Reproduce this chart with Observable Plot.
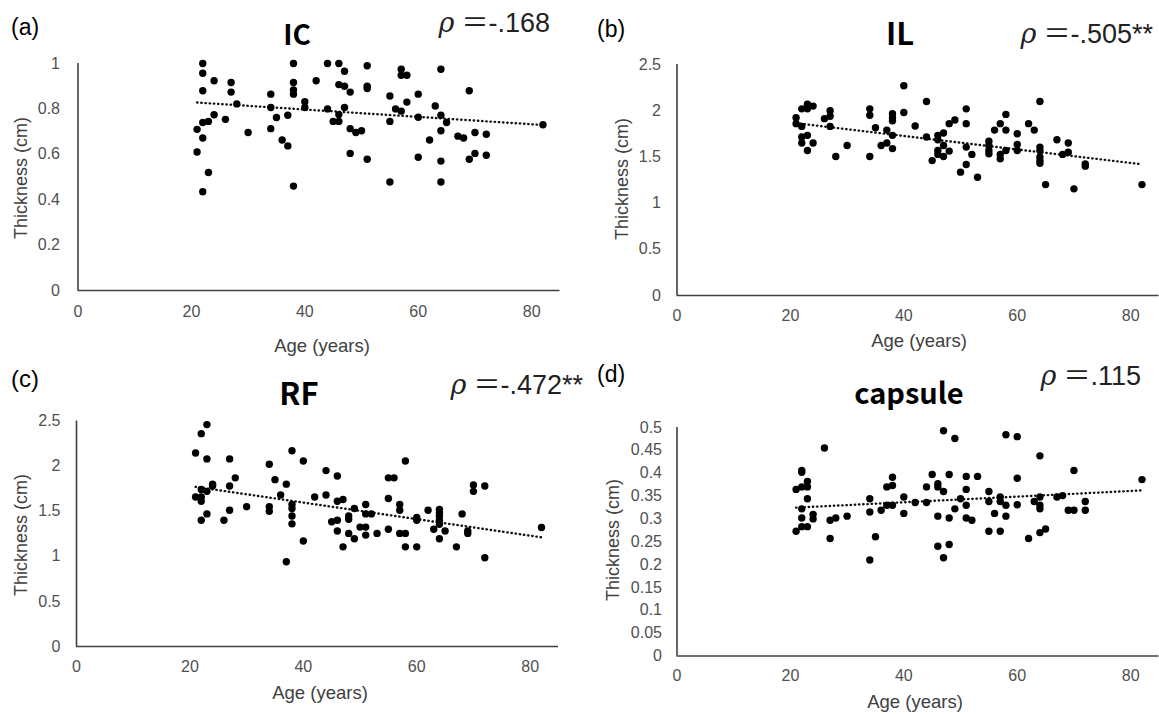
<!DOCTYPE html>
<html>
<head>
<meta charset="utf-8">
<script src="https://cdn.jsdelivr.net/npm/d3@7"></script>
<script src="https://cdn.jsdelivr.net/npm/@observablehq/plot@0.6"></script>
<style>
  html, body { margin: 0; padding: 0; background: #fff; }
  #wrap { position: relative; width: 1159px; height: 714px; overflow: hidden; background: #fff; }
  .panel { position: absolute; }
  #overlay { position: absolute; left: 0; top: 0; pointer-events: none; }
</style>
</head>
<body>
<div id="wrap"><svg id="overlay" width="1159" height="714"></svg></div>
<script>
// ---------- data ----------
const xTicks = [0, 20, 40, 60, 80];

// (a) IC
const icAge = [21,21,22,22,22,22,22,22,23,23,24,24,26,27,27,28,30,34,34,34,35,36,37,37,38,38,38,38,38,40,40,42,44,44,45,46,46,46,46,47,47,47,48,48,48,49,50,51,51,51,51,55,55,55,56,57,57,57,58,58,60,60,60,62,63,64,64,64,64,64,65,67,68,69,69,70,70,72,72,82];
const icThick = [0.71,0.61,1.0,0.957,0.88,0.74,0.672,0.435,0.745,0.52,0.774,0.924,0.754,0.916,0.874,0.822,0.696,0.865,0.806,0.713,0.762,0.663,0.772,0.637,1.0,0.916,0.884,0.865,0.46,0.832,0.806,0.924,1.0,0.80,0.745,1.0,0.907,0.775,0.745,0.966,0.90,0.806,0.874,0.713,0.604,0.696,0.704,0.99,0.90,0.89,0.578,0.857,0.745,0.478,0.80,0.975,0.948,0.79,0.948,0.83,0.865,0.763,0.587,0.663,0.813,0.975,0.772,0.704,0.57,0.478,0.74,0.68,0.672,0.88,0.578,0.696,0.604,0.688,0.596,0.73];
const icTrendAge = [21, 82];
const icTrend = [0.828, 0.729];
const icTicks = [0, 0.2, 0.4, 0.6, 0.8, 1];

// (b) IL
const ilAge = [21,21,22,22,22,22,23,23,23,23,24,24,26,27,27,27,28,30,34,34,34,35,36,37,37,38,38,38,38,38,40,40,42,44,44,45,46,46,46,46,47,47,47,48,48,49,50,51,51,51,51,52,53,55,55,55,55,56,57,57,57,58,58,58,60,60,60,62,63,64,64,64,64,64,64,65,67,68,69,69,70,72,72,82];
const ilThick = [1.925,1.86,2.02,1.83,1.715,1.65,2.07,2.02,1.733,1.57,2.05,1.65,1.914,2.0,1.94,1.83,1.505,1.624,2.02,1.95,1.505,1.816,1.624,1.79,1.65,1.968,1.925,1.89,1.733,1.59,2.27,1.98,1.834,2.10,1.715,1.46,1.733,1.686,1.57,1.527,1.758,1.624,1.505,1.86,1.563,1.90,1.335,2.02,1.86,1.606,1.418,1.527,1.28,1.67,1.624,1.57,1.534,1.79,1.86,1.527,1.48,1.96,1.79,1.57,1.75,1.635,1.57,1.86,1.79,2.10,1.606,1.57,1.50,1.46,1.43,1.20,1.686,1.527,1.65,1.55,1.154,1.425,1.40,1.20];
const ilTrendAge = [21, 82];
const ilTrend = [1.865, 1.42];
const ilTicks = [0, 0.5, 1, 1.5, 2, 2.5];

// (c) RF
const rfAge = [21,21,22,22,22,22,22,23,23,23,23,24,24,26,27,27,27,28,30,34,34,34,35,36,37,37,38,38,38,38,38,40,40,42,44,44,45,46,46,46,46,47,47,48,48,48,49,49,50,51,51,51,51,52,53,55,55,55,56,57,57,57,58,58,58,60,60,60,62,63,64,64,64,64,64,64,65,67,68,69,69,70,70,72,72,82];
const rfThick = [2.145,1.657,2.36,1.657,1.74,1.61,1.40,2.46,2.08,1.72,1.47,1.80,1.78,1.40,2.08,1.78,1.51,1.87,1.55,2.02,1.55,1.50,1.85,1.68,1.80,0.94,2.17,1.575,1.53,1.446,1.36,2.056,1.17,1.657,1.95,1.68,1.383,1.89,1.61,1.40,1.28,1.63,1.105,1.446,1.41,1.254,1.53,1.195,1.324,1.575,1.47,1.324,1.235,1.47,1.254,1.87,1.64,1.30,1.87,1.575,1.51,1.254,2.056,1.254,1.105,1.43,1.40,1.105,1.51,1.30,1.52,1.48,1.446,1.40,1.354,1.195,1.28,1.105,1.47,1.28,1.254,1.79,1.72,1.78,0.984,1.32];
const rfTrendAge = [21, 82];
const rfTrend = [1.77, 1.21];
const rfTicks = [0, 0.5, 1, 1.5, 2, 2.5];

// (d) capsule
const capAge = [21,21,22,22,22,22,22,22,23,23,23,23,24,24,26,27,27,28,30,34,34,34,35,36,37,37,38,38,38,40,40,42,44,44,45,46,46,46,46,47,47,47,48,48,48,49,49,50,51,51,51,51,52,53,55,55,55,56,57,57,57,58,58,58,60,60,60,62,63,64,64,64,64,64,65,67,68,69,70,70,72,72,82];
const capThick = [0.3645,0.273,0.406,0.402,0.37,0.322,0.302,0.283,0.382,0.37,0.344,0.283,0.31,0.30,0.455,0.297,0.257,0.302,0.306,0.344,0.315,0.21,0.261,0.319,0.37,0.33,0.391,0.373,0.33,0.348,0.312,0.336,0.37,0.336,0.397,0.377,0.37,0.306,0.24,0.493,0.36,0.215,0.397,0.302,0.244,0.476,0.322,0.344,0.393,0.3645,0.33,0.302,0.297,0.393,0.36,0.338,0.273,0.312,0.348,0.338,0.273,0.484,0.33,0.306,0.48,0.389,0.331,0.257,0.338,0.438,0.348,0.33,0.322,0.27,0.278,0.348,0.351,0.319,0.406,0.319,0.338,0.319,0.386];
const capTrendAge = [21, 82];
const capTrend = [0.3246, 0.3623];
const capTicks = [0, 0.05, 0.1, 0.15, 0.2, 0.25, 0.3, 0.35, 0.4, 0.45, 0.5];

// ---------- drawing ----------
function panel(cfg) {
  const pts = cfg.ages.map((a, i) => ({age: a, v: cfg.vals[i]}));
  const trend = cfg.trendAge.map((a, i) => ({age: a, v: cfg.trend[i]}));
  const yMax = cfg.yTicks[cfg.yTicks.length - 1];
  const chart = Plot.plot({
    width: cfg.width, height: cfg.height,
    marginLeft: cfg.ml, marginRight: cfg.mr, marginTop: cfg.mt, marginBottom: cfg.mb,
    style: {fontFamily: "'Liberation Sans', Arial, sans-serif", fontSize: "16px", color: "#505050", background: "transparent", overflow: "visible"},
    x: {domain: [0, 85], ticks: xTicks, tickSize: 0, tickPadding: cfg.xPad, label: null, tickFormat: d => String(d)},
    y: {domain: [0, yMax], ticks: cfg.yTicks, tickSize: 0, tickPadding: cfg.yPad, label: null, tickFormat: d => String(d)},
    marks: [
      Plot.ruleY([0], {stroke: "#404040", strokeWidth: 1.6}),
      Plot.ruleX([0], {stroke: "#404040", strokeWidth: 1.6}),
      Plot.line(trend, {x: "age", y: "v", stroke: "#111", strokeWidth: 2.4, strokeLinecap: "round", strokeDasharray: "0.4,3.8"}),
      Plot.dot(pts, {x: "age", y: "v", r: 3.7, fill: "#000", stroke: "none"})
    ]
  });
  const div = document.createElement("div");
  div.className = "panel";
  div.style.left = cfg.left + "px";
  div.style.top = cfg.top + "px";
  div.appendChild(chart);
  document.getElementById("wrap").insertBefore(div, document.getElementById("overlay"));
}

panel({ages: icAge, vals: icThick, trendAge: icTrendAge, trend: icTrend, yTicks: icTicks,
  left: 0, top: 0, width: 580, height: 357, ml: 77.5, mr: 20.5, mt: 63, mb: 67, xPad: 15, yPad: 18});
panel({ages: ilAge, vals: ilThick, trendAge: ilTrendAge, trend: ilTrend, yTicks: ilTicks,
  left: 580, top: 0, width: 579, height: 357, ml: 96.5, mr: 0.5, mt: 64, mb: 62, xPad: 14, yPad: 16});
panel({ages: rfAge, vals: rfThick, trendAge: rfTrendAge, trend: rfTrend, yTicks: rfTicks,
  left: 0, top: 357, width: 580, height: 357, ml: 76, mr: 22, mt: 63.5, mb: 68, xPad: 14, yPad: 16});
panel({ages: capAge, vals: capThick, trendAge: capTrendAge, trend: capTrend, yTicks: capTicks,
  left: 580, top: 357, width: 579, height: 357, ml: 96.5, mr: 0.5, mt: 70, mb: 58.5, xPad: 14, yPad: 15});

// ---------- texts ----------
const ov = d3.select("#overlay");
const sans = "'Liberation Sans', Arial, sans-serif";
const cjk = "'Noto Sans CJK JP', 'Noto Sans', sans-serif";
function txt(s, x, y, o) {
  const t = ov.append("text").attr("x", x).attr("y", y).text(s)
    .attr("font-family", o.font || sans)
    .attr("font-size", o.size).attr("fill", o.fill || "#000")
    .attr("font-weight", o.weight || "normal")
    .attr("text-anchor", o.anchor || "start");
  if (o.rotate) t.attr("transform", `rotate(-90 ${x} ${y})`);
  return t;
}
function rho(val, x, y) {
  const t = ov.append("text").attr("x", x).attr("y", y)
    .attr("font-family", sans).attr("font-size", 27).attr("fill", "#222")
    .attr("text-anchor", "end");
  t.append("tspan").attr("font-family", "'DejaVu Serif', serif").attr("font-style", "italic").text("ρ");
  t.append("tspan").attr("font-family", cjk).attr("dx", 7).text("＝");
  t.append("tspan").text(val);
}
// panel letters
txt("(a)", 11, 35, {size: 23});
txt("(b)", 597, 37, {size: 23});
txt("(c)", 11, 387, {size: 24});
txt("(d)", 597, 382, {size: 23});
// titles
txt("IC", 297, 45, {size: 28, weight: 700, font: cjk, anchor: "middle"});
txt("IL", 900, 45, {size: 31, weight: 700, font: cjk, anchor: "middle"});
txt("RF", 299, 405, {size: 31, weight: 700, font: cjk, anchor: "middle"});
txt("capsule", 909, 404, {size: 29, weight: 700, font: cjk, anchor: "middle"});
// correlations
rho("-.168", 550, 32);
rho("-.505**", 1153, 43);
rho("-.472**", 583, 394);
rho(".115", 1141, 385);
// axis titles
const axc = "#404040";
txt("Age (years)", 322, 352, {size: 18.5, anchor: "middle", fill: axc});
txt("Age (years)", 919, 347, {size: 18.5, anchor: "middle", fill: axc});
txt("Age (years)", 320, 699, {size: 18.5, anchor: "middle", fill: axc});
txt("Age (years)", 915, 708, {size: 18.5, anchor: "middle", fill: axc});
txt("Thickness (cm)", 27, 178, {size: 18, anchor: "middle", fill: axc, rotate: true});
txt("Thickness (cm)", 628, 179, {size: 18, anchor: "middle", fill: axc, rotate: true});
txt("Thickness (cm)", 27, 535, {size: 18, anchor: "middle", fill: axc, rotate: true});
txt("Thickness (cm)", 619, 540, {size: 18, anchor: "middle", fill: axc, rotate: true});
</script>
</body>
</html>
